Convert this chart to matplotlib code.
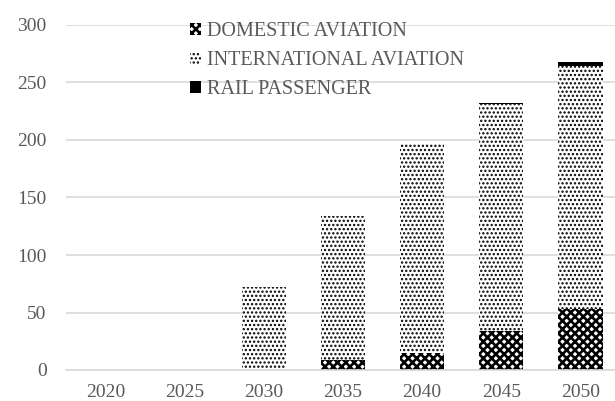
import numpy as np
import matplotlib
matplotlib.use('Agg')
import matplotlib.pyplot as plt

# Values
years = ['2020', '2025', '2030', '2035', '2040', '2045', '2050']
domestic = [0, 0, 0, 8.7, 15, 33.7, 52.7]
international = [0, 0, 72, 125.6, 182.6, 197.3, 211.8]
rail = [0, 0, 0, 0, 0, 1.5, 3]

plt.rcParams['font.family'] = ['Liberation Serif', 'DejaVu Serif']
plt.rcParams['hatch.linewidth'] = 1.9
text_col = '#595959'

fig = plt.figure(figsize=(6.15, 4.01), dpi=100)
ax = fig.add_axes([66 / 615, 31 / 401, 554 / 615, 345 / 401])

x = np.arange(len(years))
w = 0.56
dom = np.array(domestic)
intl = np.array(international)

b1 = ax.bar(x, dom, w, color='white', edgecolor='black', hatch='xxxx',
            linewidth=0, label='DOMESTIC AVIATION')
b2 = ax.bar(x, intl, w, bottom=dom, color='white', edgecolor='black',
            hatch='....', linewidth=0, label='INTERNATIONAL AVIATION')
b3 = ax.bar(x, rail, w, bottom=dom + intl, color='black',
            linewidth=0, label='RAIL PASSENGER')

# thinner dots for the international pattern
for p in list(b2):
    if hasattr(p, 'set_hatch_linewidth'):
        p.set_hatch_linewidth(1.1)

ax.set_xlim(-0.5, len(years) - 0.5)
ax.set_ylim(0, 300)
ax.set_yticks(range(0, 301, 50))
ax.set_xticks(x)
ax.set_xticklabels(years)
ax.grid(axis='y', color='#d9d9d9', linewidth=1.2)
ax.set_axisbelow(True)
for s in ['top', 'right', 'left']:
    ax.spines[s].set_visible(False)
ax.spines['bottom'].set_color('#d9d9d9')
ax.spines['bottom'].set_linewidth(1.2)
ax.tick_params(length=0, labelsize=14, colors=text_col, pad=10)
ax.tick_params(axis='y', pad=14)

leg = ax.legend(loc='upper left', bbox_to_anchor=(182 / 615, 1 - 14 / 401),
                bbox_transform=fig.transFigure, frameon=False, fontsize=14.5,
                handlelength=0.55, handleheight=0.55, handletextpad=0.3,
                labelspacing=0.5, borderaxespad=0)
for t in leg.get_texts():
    t.set_color(text_col)
for h in leg.legend_handles:
    if hasattr(h, 'set_hatch_linewidth') and h.get_hatch() == '....':
        h.set_hatch_linewidth(1.1)

plt.savefig('out.png', dpi=100)
